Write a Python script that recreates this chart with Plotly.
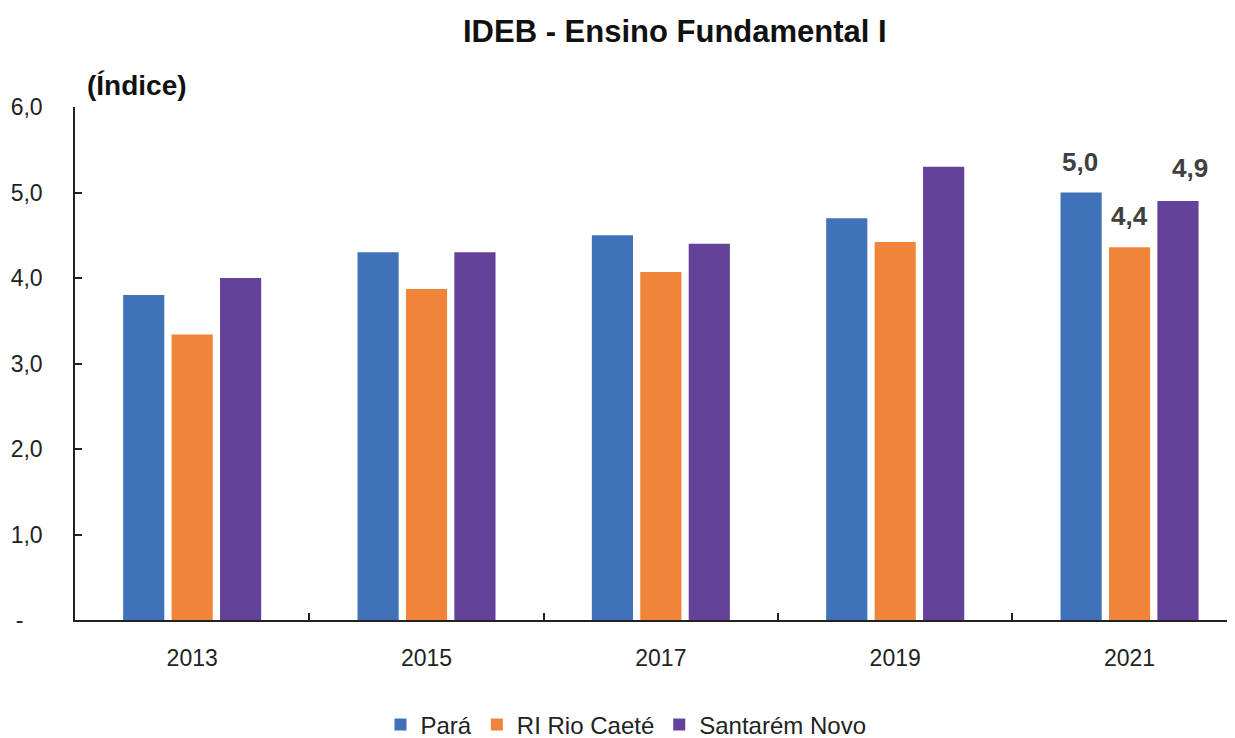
import plotly.graph_objects as go

years = ["2013", "2015", "2017", "2019", "2021"]
para = [3.8, 4.3, 4.5, 4.7, 5.0]
rio_caete = [3.34, 3.87, 4.07, 4.42, 4.36]
santarem = [4.0, 4.3, 4.4, 5.3, 4.9]
series_names = ["Pará", "RI Rio Caeté", "Santarém Novo"]
colors = ["#3F72B8", "#F0843A", "#65429A"]
y_ticks = [0, 1, 2, 3, 4, 5, 6]
y_ticktext = ["-\u00a0\u00a0\u00a0", "1,0", "2,0", "3,0", "4,0", "5,0", "6,0"]

FONT = "Liberation Sans, Arial"

fig = go.Figure()
for name, vals, col in zip(series_names, [para, rio_caete, santarem], colors):
    fig.add_trace(go.Bar(x=years, y=vals, name=name, marker=dict(color=col, line=dict(width=0))))

# data labels for last year
offsets = [-50, 0, 60]
yshifts = [31, 31, 33]
last = len(years) - 1
for vals, off, ys in zip([para, rio_caete, santarem], offsets, yshifts):
    v = vals[-1]
    fig.add_annotation(x=last, y=v, xref="x", yref="y", text="<b>" + f"{v:.1f}".replace(".", ",") + "</b>",
                       showarrow=False, xshift=off, yshift=ys,
                       font=dict(family=FONT, size=26, color="#404040"))

fig.add_annotation(x=0.517, y=1.0, xref="paper", yref="paper", xanchor="center", yanchor="bottom",
                   text="<b>IDEB - Ensino Fundamental I</b>", showarrow=False, yshift=56,
                   font=dict(family=FONT, size=31, color="#111111"))
fig.add_annotation(x=0.0086, y=1.0, xref="paper", yref="paper", xanchor="left", yanchor="bottom",
                   text="<b>(Índice)</b>", showarrow=False, yshift=4,
                   font=dict(family=FONT, size=28, color="#111111"))

fig.update_layout(
    width=1227, height=730,
    margin=dict(l=67, r=0, t=99, b=118),
    paper_bgcolor="white", plot_bgcolor="white",
    barmode="group", bargap=0.38, bargroupgap=0.15,
    font=dict(family=FONT, size=23, color="#222222"),
    legend=dict(orientation="h", x=0.475, xanchor="center", y=0.018, yanchor="middle",
                yref="container",
                font=dict(family=FONT, size=24, color="#222222"), itemwidth=30,
                tracegroupgap=0),
    showlegend=True,
)
fig.update_xaxes(type="category", range=[-0.5, len(years) - 0.55], showline=True,
                 linecolor="#222222", linewidth=2,
                 ticks="inside", tickson="boundaries", ticklen=7, tickwidth=2, tickcolor="#222222",
                 tickfont=dict(family=FONT, size=23, color="#222222"), ticklabelstandoff=16,
                 showgrid=False, zeroline=False)
fig.update_yaxes(range=[0, 6], tickvals=y_ticks, ticktext=y_ticktext, showline=True,
                 linecolor="#222222", linewidth=1.5, ticks="inside", ticklen=7, tickwidth=1.5,
                 tickcolor="#222222", showgrid=False, zeroline=False,
                 tickfont=dict(family=FONT, size=23, color="#222222"), ticklabelstandoff=26)

fig.write_html("out.html")
